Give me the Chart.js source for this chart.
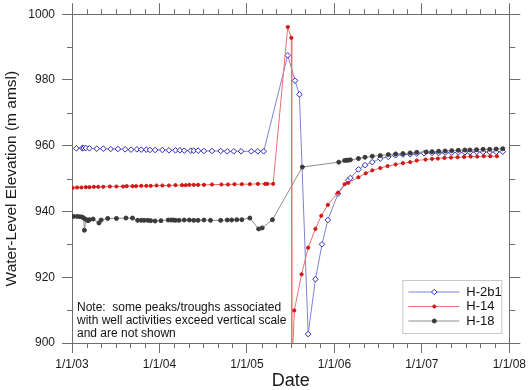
<!DOCTYPE html>
<html>
<head>
<meta charset="utf-8">
<script src="https://cdn.jsdelivr.net/npm/chart.js@4.4.1/dist/chart.umd.min.js"></script>
<style>
  html, body { margin: 0; padding: 0; background: #fff; }
  canvas { display: block; }
</style>
</head>
<body>
<canvas id="chart" width="530" height="390"></canvas>
<script>
// x values are months after 1/1/03
const yearLabels = ["1/1/03", "1/1/04", "1/1/05", "1/1/06", "1/1/07", "1/1/08"];

const h2b1Months = [0.6, 1.4, 1.6, 1.9, 2.4, 3.4, 4.3, 5.3, 6.3, 7.3, 8.1, 8.9, 9.5, 10.2, 10.7,
  11.4, 12.4, 13.3, 14.2, 14.8, 15.4, 16.3, 16.7, 17.3, 18.1, 19.2, 20.4, 21.3, 22.2, 23.2,
  24.6, 25.5, 26.3, 29.6, 30.6, 31.2, 32.4, 33.4, 34.3, 35.1, 36.5, 37.9, 38.2, 39.3, 40.2,
  41.2, 42.3, 43.4, 44.4, 45.4, 46.4, 47.3, 48.3, 49.4, 50.3, 51.2, 52.1, 53.0, 53.9, 54.6,
  55.5, 56.4, 57.3, 58.2, 59.1];
const h2b1Levels = [959.2, 959.3, 959.3, 959.3, 959.2, 959.1, 959.1, 959.0, 959.0, 958.9, 958.8,
  958.9, 958.8, 958.8, 958.7, 958.7, 958.7, 958.6, 958.6, 958.6, 958.5, 958.5, 958.5, 958.5,
  958.4, 958.4, 958.4, 958.3, 958.3, 958.3, 958.3, 958.3, 958.3, 987.5, 979.8, 975.6, 902.7,
  919.4, 930.0, 937.4, 945.4, 949.5, 950.2, 952.8, 954.1, 955.0, 956.1, 956.6, 957.1, 957.3,
  957.4, 957.6, 957.7, 957.8, 957.8, 957.9, 957.9, 958.0, 958.0, 958.0, 958.1, 958.1, 958.1,
  958.1, 958.2];

const h14Months = [0.1, 0.7, 1.3, 1.9, 2.4, 3.0, 3.6, 4.3, 5.2, 6.1, 7.0, 7.5, 8.3, 8.8, 9.5,
  10.2, 10.8, 11.6, 12.4, 13.3, 14.2, 15.1, 15.6, 16.1, 16.7, 17.3, 18.1, 19.2, 20.5, 21.4,
  22.3, 23.3, 24.4, 25.5, 26.5, 26.8, 27.6, 29.6, 30.1, 30.15, 30.5, 31.5, 32.4, 33.4, 34.2,
  35.1, 36.5, 37.4, 37.9, 39.3, 40.3, 41.2, 42.3, 43.3, 44.4, 45.4, 46.4, 47.3, 48.5, 49.4,
  50.2, 51.1, 52.0, 52.9, 53.8, 54.7, 55.6, 56.5, 57.4, 58.3];
const h14Levels = [947.2, 947.3, 947.3, 947.4, 947.4, 947.5, 947.5, 947.5, 947.6, 947.6, 947.6,
  947.7, 947.7, 947.7, 947.8, 947.8, 947.8, 947.9, 947.9, 947.9, 948.0, 948.0, 948.0, 948.1,
  948.1, 948.1, 948.1, 948.2, 948.2, 948.2, 948.3, 948.3, 948.3, 948.4, 948.4, 948.4, 948.4,
  996.1, 992.8, 890.0, 909.9, 920.9, 929.0, 934.7, 938.7, 942.0, 945.7, 948.3, 948.7, 950.4,
  951.6, 952.5, 953.2, 953.8, 954.3, 954.7, 955.0, 955.5, 955.8, 956.0, 956.1, 956.3, 956.4,
  956.5, 956.6, 956.7, 956.7, 956.8, 956.8, 956.8];

const h18Months = [0.2, 0.7, 1.1, 1.4, 1.6, 1.7, 1.9, 2.2, 2.4, 2.9, 3.7, 4.0, 4.9, 6.1, 7.4,
  8.3, 9.0, 9.5, 9.9, 10.4, 10.8, 11.4, 12.2, 13.2, 13.6, 13.9, 14.2, 14.7, 15.4, 16.1, 16.7,
  17.3, 18.1, 19.0, 20.4, 21.3, 21.9, 22.6, 23.3, 24.4, 25.6, 26.1, 27.5, 31.6, 36.6, 37.4,
  37.7, 37.9, 38.2, 39.3, 40.2, 41.2, 42.3, 43.4, 44.4, 45.4, 46.4, 47.3, 48.6, 49.4, 50.3,
  51.2, 52.1, 53.0, 53.9, 54.6, 55.5, 56.4, 57.3, 58.2, 59.1];
const h18Levels = [938.5, 938.5, 938.4, 938.3, 938.0, 934.3, 937.6, 937.2, 937.5, 937.7, 936.5,
  937.4, 937.9, 937.9, 938.0, 938.0, 937.3, 937.3, 937.3, 937.3, 937.2, 937.1, 937.2, 937.4,
  937.4, 937.4, 937.3, 937.3, 937.4, 937.4, 937.3, 937.3, 937.4, 937.3, 937.3, 937.4, 937.4,
  937.5, 937.5, 938.0, 934.7, 935.0, 937.5, 953.5, 955.0, 955.5, 955.6, 955.6, 955.7, 956.1,
  956.5, 956.8, 957.0, 957.3, 957.5, 957.6, 957.8, 958.0, 958.1, 958.2, 958.3, 958.4, 958.5,
  958.6, 958.7, 958.7, 958.8, 958.9, 958.9, 959.0, 959.1];

const seriesNames = ["H-2b1", "H-14", "H-18"];
const noteLines = [
  "Note:  some peaks/troughs associated",
  "with well activities exceed vertical scale",
  "and are not shown"
];

const axisColor = "#6e6e6e";
const fontFamily = "'Liberation Sans', Arial, sans-serif";

function toPoints(xs, ys) {
  return xs.map((x, i) => ({ x: x, y: ys[i] }));
}

const styles = [
  { line: "#8080d8", point: "#2a2ab8", fill: "#ffffff", shape: "rectRot", r: 2.8 },
  { line: "#e87070", point: "#d01818", fill: "#d01818", shape: "circle", r: 1.6 },
  { line: "#8e8e8e", point: "#3a3a3a", fill: "#3a3a3a", shape: "circle", r: 2 }
];

const minorTicks = {
  id: "minorTicks",
  afterDraw(chart) {
    const ctx = chart.ctx;
    const area = chart.chartArea;
    ctx.save();
    ctx.strokeStyle = axisColor;
    ctx.lineWidth = 1;
    ["x", "x2", "y", "y2"].forEach(id => {
      const s = chart.scales[id];
      const step = id[0] === "x" ? 12 : 20;
      s.ticks.forEach(t => {
        if (t.value % step === 0) return;
        const p = Math.round(s.getPixelForValue(t.value)) + 0.5;
        ctx.beginPath();
        if (id === "x") { ctx.moveTo(p, area.bottom); ctx.lineTo(p, area.bottom + 5); }
        if (id === "x2") { ctx.moveTo(p, area.top); ctx.lineTo(p, area.top - 5); }
        if (id === "y") { ctx.moveTo(area.left, p); ctx.lineTo(area.left - 5, p); }
        if (id === "y2") { ctx.moveTo(area.right, p); ctx.lineTo(area.right + 6, p); }
        ctx.stroke();
      });
    });
    ctx.restore();
  }
};

const boxLegend = {
  id: "boxLegend",
  afterDraw(chart) {
    const ctx = chart.ctx;
    const area = chart.chartArea;
    ctx.save();
    // note text
    ctx.fillStyle = "#111";
    ctx.font = "12px " + fontFamily;
    ctx.textBaseline = "middle";
    ctx.textAlign = "left";
    noteLines.forEach((line, i) => {
      ctx.fillText(line, area.left + 5, area.bottom - 35 + i * 12.6);
    });
    // legend box
    const bx = area.right - 107, by = area.bottom - 63, bw = 99, bh = 53;
    ctx.fillStyle = "#fff";
    ctx.fillRect(bx, by, bw, bh);
    ctx.strokeStyle = "#c8c8c8";
    ctx.strokeRect(bx + 0.5, by + 0.5, bw, bh);
    seriesNames.forEach((name, i) => {
      const st = styles[i];
      const y = by + 12 + i * 14.5;
      ctx.strokeStyle = st.line;
      ctx.lineWidth = 1;
      ctx.beginPath();
      ctx.moveTo(bx + 6, y);
      ctx.lineTo(bx + 57, y);
      ctx.stroke();
      const cx = bx + 32;
      ctx.fillStyle = st.fill;
      ctx.strokeStyle = st.point;
      ctx.beginPath();
      if (st.shape === "rectRot") {
        ctx.moveTo(cx, y - st.r); ctx.lineTo(cx + st.r, y); ctx.lineTo(cx, y + st.r); ctx.lineTo(cx - st.r, y);
        ctx.closePath();
      } else {
        ctx.arc(cx, y, st.r, 0, Math.PI * 2);
      }
      ctx.fill();
      ctx.stroke();
      ctx.fillStyle = "#111";
      ctx.font = "13px " + fontFamily;
      ctx.fillText(name, bx + 64, y);
    });
    ctx.restore();
  }
};

const datasets = [
  toPoints(h2b1Months, h2b1Levels),
  toPoints(h14Months, h14Levels),
  toPoints(h18Months, h18Levels)
].map((pts, i) => ({
  label: seriesNames[i],
  data: pts,
  borderColor: styles[i].line,
  borderWidth: 1,
  pointStyle: styles[i].shape,
  pointRadius: styles[i].r,
  pointBorderColor: styles[i].point,
  pointBackgroundColor: styles[i].fill,
  pointBorderWidth: 1,
  tension: 0,
  fill: false
}));

const tickFont = { family: fontFamily, size: 12 };

new Chart(document.getElementById("chart"), {
  type: "line",
  data: { datasets: datasets.reverse() },
  options: {
    responsive: false,
    animation: false,
    layout: { padding: 0 },
    plugins: { legend: { display: false }, tooltip: { enabled: false } },
    scales: {
      x: {
        type: "linear",
        position: "bottom",
        min: 0,
        max: 60,
        afterFit: s => { s.height = 47; },
        ticks: {
          stepSize: 2,
          autoSkip: false,
          maxRotation: 0,
          padding: 4,
          color: "#1a1a1a",
          font: tickFont,
          callback: v => (v % 12 === 0 ? yearLabels[v / 12] : "")
        },
        grid: {
          drawOnChartArea: false,
          tickLength: 10,
          tickColor: c => (c.tick && c.tick.value % 12 === 0 ? axisColor : "rgba(0,0,0,0)")
        },
        border: { color: axisColor },
        title: {
          display: true,
          text: "Date",
          color: "#1a1a1a",
          font: { family: fontFamily, size: 18, lineHeight: 1 },
          padding: 0
        }
      },
      x2: {
        type: "linear",
        position: "top",
        min: 0,
        max: 60,
        afterFit: s => { s.height = 11; },
        ticks: { stepSize: 2, autoSkip: false, display: false },
        grid: {
          drawOnChartArea: false,
          tickLength: 11,
          tickColor: c => (c.tick && c.tick.value % 12 === 0 ? axisColor : "rgba(0,0,0,0)")
        },
        border: { color: axisColor }
      },
      y: {
        position: "left",
        min: 900,
        max: 1000,
        afterFit: s => { s.width = 72; },
        ticks: {
          stepSize: 10,
          autoSkip: false,
          padding: 7,
          color: "#1a1a1a",
          font: tickFont,
          callback: v => (v % 20 === 0 ? v : "")
        },
        grid: {
          drawOnChartArea: false,
          tickLength: 10,
          tickColor: c => (c.tick && c.tick.value % 20 === 0 ? axisColor : "rgba(0,0,0,0)")
        },
        border: { color: axisColor },
        title: {
          display: true,
          text: "Water-Level Elevation (m amsl)",
          color: "#1a1a1a",
          font: { family: fontFamily, size: 15.5, lineHeight: 1 },
          padding: { top: 4, bottom: 0 }
        }
      },
      y2: {
        position: "right",
        min: 900,
        max: 1000,
        afterFit: s => { s.width = 17; },
        ticks: { stepSize: 10, autoSkip: false, display: false },
        grid: {
          drawOnChartArea: false,
          tickLength: 11,
          tickColor: c => (c.tick && c.tick.value % 20 === 0 ? axisColor : "rgba(0,0,0,0)")
        },
        border: { color: axisColor }
      }
    }
  },
  plugins: [minorTicks, boxLegend]
});
</script>
</body>
</html>
